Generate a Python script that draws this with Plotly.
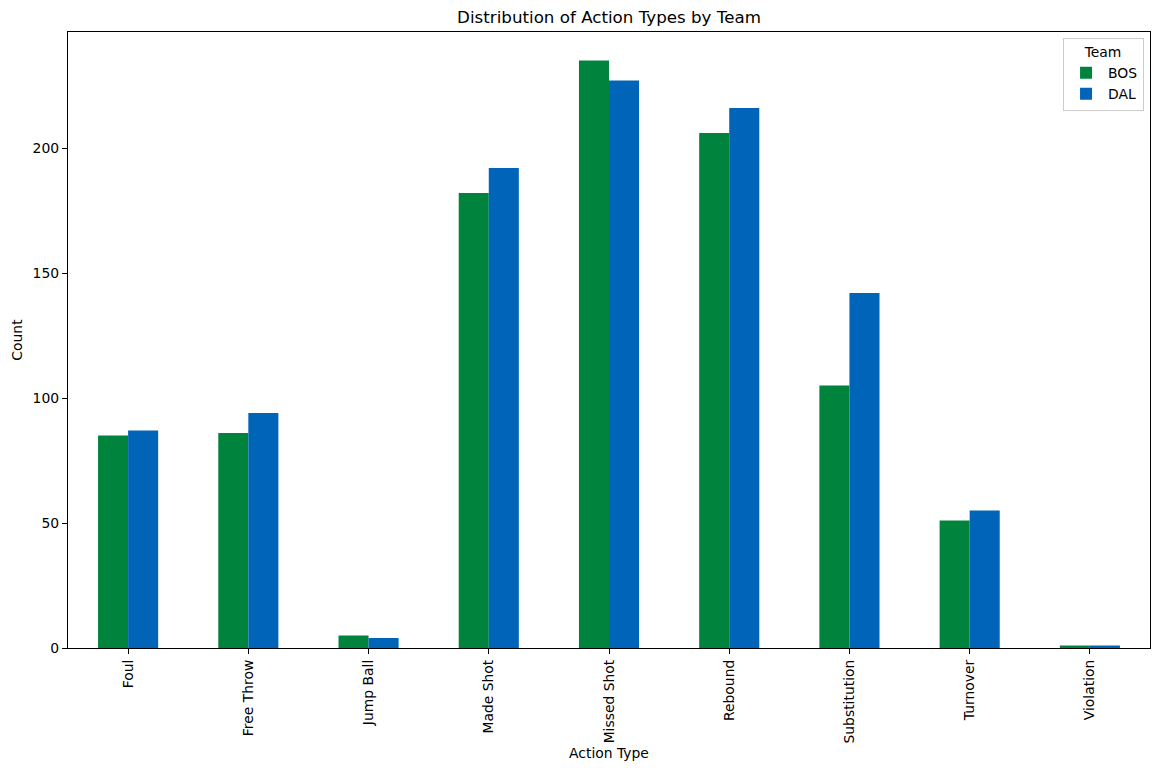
import plotly.graph_objects as go

categories = ["Foul", "Free Throw", "Jump Ball", "Made Shot", "Missed Shot",
              "Rebound", "Substitution", "Turnover", "Violation"]
bos_values = [85, 86, 5, 182, 235, 206, 105, 51, 1]
dal_values = [87, 94, 4, 192, 227, 216, 142, 55, 1]
y_ticks = [0, 50, 100, 150, 200]

FONT = "DejaVu Sans"
W, H = 1152, 763
fig = go.Figure()
fig.add_trace(go.Bar(x=categories, y=bos_values, name="BOS", marker=dict(color="#00843D", line=dict(width=0))))
fig.add_trace(go.Bar(x=categories, y=dal_values, name="DAL", marker=dict(color="#0065B8", line=dict(width=0))))

fig.update_layout(
    width=W, height=H,
    margin=dict(l=58, r=9, t=24, b=123),
    paper_bgcolor="white", plot_bgcolor="white",
    barmode="group", bargap=0.5, bargroupgap=0,
    font=dict(family=FONT, size=13.9, color="black"),
    title=dict(text="Distribution of Action Types by Team", x=0.5, xanchor="center",
               xref="paper", y=1 - 9 / H, yanchor="middle", yref="container",
               font=dict(size=16.7, family=FONT, color="black")),
    legend=dict(
        title=dict(text="Team", side="top center", font=dict(size=13.9)),
        x=0.9945, xanchor="right", y=0.99, yanchor="top",
        bgcolor="rgba(255,255,255,0.8)", bordercolor="#cccccc", borderwidth=1,
        font=dict(size=13.9), itemwidth=34,
    ),
    xaxis=dict(
        title=dict(text="Action Type", font=dict(size=13.9), standoff=5),
        tickangle=-90, ticks="outside", ticklen=5, tickwidth=1, tickcolor="black",
        showline=True, linecolor="black", linewidth=1.3, mirror=True,
        showgrid=False, range=[-0.5, 8.5],
    ),
    yaxis=dict(
        title=dict(text="Count", font=dict(size=13.9), standoff=6),
        tickvals=y_ticks, ticks="outside", ticklen=5, tickwidth=1, tickcolor="black",
        showline=True, linecolor="black", linewidth=1.3, mirror=True,
        showgrid=False, zeroline=False, range=[0, 246.4],
    ),
)

fig.write_html("out.html")
